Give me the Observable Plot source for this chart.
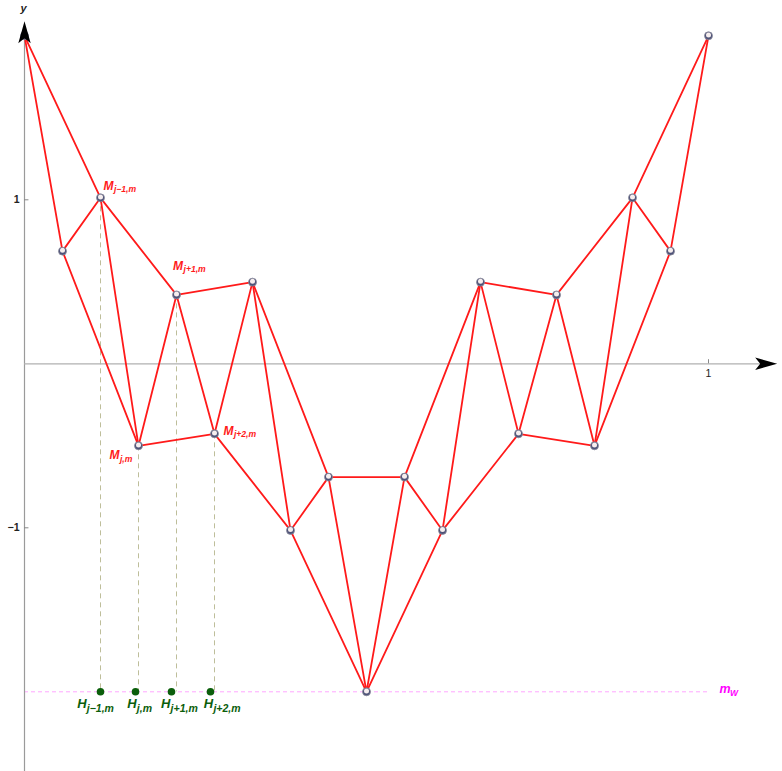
<!DOCTYPE html>
<html>
<head>
<meta charset="utf-8">
<script src="https://cdn.jsdelivr.net/npm/d3@7"></script>
<script src="https://cdn.jsdelivr.net/npm/@observablehq/plot@0.6"></script>
<style>
  body { margin: 0; background: white; }
  #chart svg { display: block; }
</style>
</head>
<body>
<div id="chart"></div>
<script>
// ---- data ----
const xs = [0, 1/18, 2/18, 3/18, 4/18, 5/18, 6/18, 7/18, 8/18, 9/18, 10/18, 11/18, 12/18, 13/18, 14/18, 15/18, 16/18, 17/18, 1];
const ys = [2, 0.687, 1.012, -0.5, 0.42, -0.427, 0.498, -1.016, -0.691, -2, -0.691, -1.016, 0.498, -0.427, 0.42, -0.5, 1.012, 0.687, 2];
const mW = -2;
const hXs = [0.1111, 0.1623, 0.2149, 0.2719];
const hSubs = ["j\u22121,m", "j,m", "j+1,m", "j+2,m"];
const mIdx = [2, 3, 4, 5];
const mSubs = ["j\u22121,m", "j,m", "j+1,m", "j+2,m"];
const xTicks = [1];
const yTicks = [1, -1];
const yTickLabels = ["1", "\u22121"];

const pts = xs.map((x, i) => ({x, y: ys[i], i}));
const evenPts = pts.filter(d => d.i % 2 === 0);
const oddPts = pts.filter(d => d.i % 2 === 1);
const guidePts = mIdx.map(i => pts[i]);
const hPts = hXs.map((x, k) => ({x, y: mW, sub: hSubs[k]}));

// axis extents
const xAxisEnd = 1.1004, yAxisTop = 2.089, yAxisBottom = -2.49;

const upArrow = { draw(ctx) { ctx.moveTo(0, 0); ctx.lineTo(-6.2, 22); ctx.lineTo(0, 17); ctx.lineTo(6.2, 22); ctx.closePath(); } };
const rightArrow = { draw(ctx) { ctx.moveTo(0, 0); ctx.lineTo(-22, -6.2); ctx.lineTo(-17, 0); ctx.lineTo(-22, 6.2); ctx.closePath(); } };

const font = "Liberation Sans, Arial, sans-serif";
const red = "#ff1a1a";
const green = "#0b5e0b";

// label offsets (pixels), M labels keyed by point index, H labels in order
const mOffByIdx = {2: [3, -12], 3: [-29, 9.7], 4: [-3.4, -29], 5: [9, -2.8]};
const hOff = [[-23.3, 12.5], [-8.3, 12.5], [-10.5, 12.5], [-6.7, 12.5]];

const labelMarks = [];
mIdx.forEach((i, k) => {
  const [dx, dy] = mOffByIdx[i];
  labelMarks.push(Plot.text([pts[i]], {x: "x", y: "y", text: () => "M", dx, dy, textAnchor: "start",
    fill: red, fontSize: 12, fontWeight: "bold", fontStyle: "italic", fontFamily: font}));
  labelMarks.push(Plot.text([pts[i]], {x: "x", y: "y", text: () => mSubs[k], dx: dx + 10.4, dy: dy + 3.6, textAnchor: "start",
    fill: red, fontSize: 8.6, fontWeight: "bold", fontStyle: "italic", fontFamily: font}));
});
hPts.forEach((d, k) => {
  const [dx, dy] = hOff[k];
  labelMarks.push(Plot.text([d], {x: "x", y: "y", text: () => "H", dx, dy, textAnchor: "start",
    fill: green, fontSize: 13, fontWeight: "bold", fontStyle: "italic", fontFamily: font}));
  labelMarks.push(Plot.text([d], {x: "x", y: "y", text: () => d.sub, dx: dx + 9.6, dy: dy + 4.2, textAnchor: "start",
    fill: green, fontSize: 10.5, fontWeight: "bold", fontStyle: "italic", fontFamily: font}));
});

const chart = Plot.plot({
  width: 782,
  height: 771,
  margin: 0,
  x: {domain: [-24/684, 758/684], axis: null},
  y: {domain: [(363.3 - 771)/164, 363.3/164], axis: null},
  style: {background: "white", fontFamily: font},
  marks: [
    // dashed guides
    Plot.ruleY([mW], {x1: 0, x2: 1, stroke: "#ff00ff", strokeOpacity: 0.35, strokeDasharray: "4,3", strokeWidth: 1}),
    Plot.ruleX(guidePts, {x: "x", y1: "y", y2: mW, stroke: "#a8a878", strokeOpacity: 0.75, strokeDasharray: "5,4", strokeWidth: 1}),
    // axes
    Plot.ruleX([0], {y1: yAxisBottom, y2: yAxisTop - 0.1, stroke: "#9a9a9a", strokeWidth: 1.2}),
    Plot.ruleY([0], {x1: 0, x2: xAxisEnd - 0.02, stroke: "#b0b0b0", strokeWidth: 1.2}),
    Plot.ruleX(xTicks, {y1: 0, y2: 0.025, stroke: "#888", strokeWidth: 1}),
    Plot.ruleY(yTicks, {x1: 0, x2: 0.0065, stroke: "#888", strokeWidth: 1}),
    Plot.text(xTicks, {x: d => d, y: 0, dy: 9.5, text: d => String(d), fill: "#222", fontSize: 10.5, fontFamily: font}),
    Plot.text(yTicks, {x: 0, y: d => d, dx: -5, textAnchor: "end", text: (d, i) => yTickLabels[i], fill: "#222", fontSize: 10.5, fontWeight: "bold", fontFamily: font}),
    Plot.text(["y"], {x: 0, y: yAxisTop, dy: -12.5, dx: -1, text: d => d, fill: "#222", fontSize: 11, fontStyle: "italic", fontWeight: "bold", fontFamily: font}),
    // red construction lines
    Plot.line(pts, {x: "x", y: "y", stroke: red, strokeWidth: 1.8}),
    Plot.line(evenPts, {x: "x", y: "y", stroke: red, strokeWidth: 1.8}),
    Plot.line(oddPts, {x: "x", y: "y", stroke: red, strokeWidth: 1.8}),
    // points
    Plot.dot(pts, {x: "x", y: "y", r: 4, fill: "#4d5278", stroke: "#8a8a9a", strokeWidth: 0.8}),
    Plot.dot(pts, {x: "x", y: "y", r: 2.5, dy: -0.9, fill: "#f6eeee", stroke: "none"}),
    Plot.dot(hPts, {x: "x", y: "y", r: 3.8, fill: green, stroke: "none"}),
    // arrowheads
    Plot.dot([0], {x: 0, y: yAxisTop, symbol: upArrow, fill: "black", stroke: "none"}),
    Plot.dot([0], {x: xAxisEnd, y: 0, symbol: rightArrow, fill: "black", stroke: "none"}),
    // labels
    ...labelMarks,
    Plot.text([mW], {x: 1, y: d => d, dx: 11, dy: -3, text: () => "m", textAnchor: "start", fill: "#ff00ff", fontSize: 12.5, fontWeight: "bold", fontStyle: "italic", fontFamily: font}),
    Plot.text([mW], {x: 1, y: d => d, dx: 21.5, dy: 1, text: () => "W", textAnchor: "start", fill: "#ff00ff", fontSize: 8.5, fontWeight: "bold", fontStyle: "italic", fontFamily: font})
  ]
});
document.getElementById("chart").appendChild(chart);
</script>
</body>
</html>
